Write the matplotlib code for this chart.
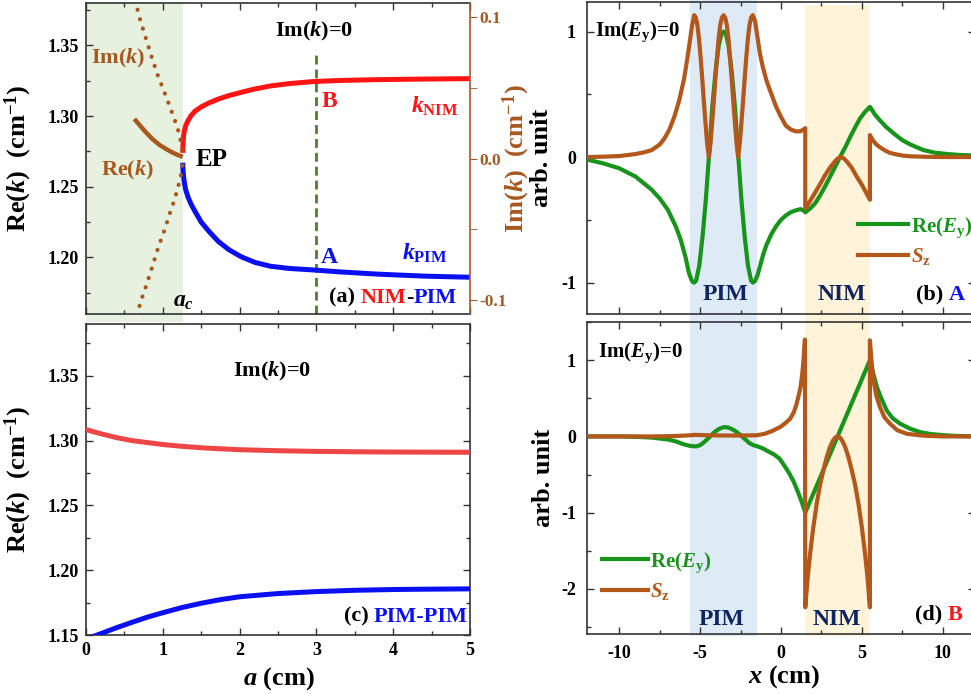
import matplotlib
matplotlib.use('Agg')
import matplotlib.pyplot as plt
from matplotlib.ticker import MultipleLocator, FixedLocator, FormatStrFormatter
from matplotlib.offsetbox import TextArea, HPacker, AnchoredOffsetbox
import matplotlib.transforms as mtrans

plt.rcParams.update({
    'font.family': ['Liberation Serif', 'DejaVu Serif'],
    'font.weight': 'bold',
    'axes.labelweight': 'bold',
    'mathtext.fontset': 'custom',
    'mathtext.rm': 'Liberation Serif:bold',
    'mathtext.it': 'Liberation Serif:italic:bold',
    'mathtext.bf': 'Liberation Serif:bold',
    'axes.unicode_minus': False,
    'axes.linewidth': 1.2,
})

# ---------------- data: panel (a) ----------------
a_c_value = 1.26          # exceptional point position
a_mark = 3.0              # dashed line position
a_nim = [1.26, 1.263, 1.27, 1.28, 1.30, 1.33, 1.37, 1.42, 1.50, 1.60, 1.72, 1.86, 2.02, 2.2, 2.4, 2.65, 2.95, 3.3, 3.8, 4.4, 5.0]
k_nim = [1.274, 1.280, 1.2855, 1.2895, 1.2935, 1.2970, 1.3005, 1.3035, 1.3065, 1.3093, 1.3120, 1.3145, 1.3168,
         1.3192, 1.3213, 1.3230, 1.3244, 1.3252, 1.3258, 1.3262, 1.3265]
a_pim = [1.26, 1.263, 1.27, 1.28, 1.30, 1.33, 1.37, 1.42, 1.50, 1.60, 1.72, 1.86, 2.02, 2.2, 2.4, 2.65, 2.95, 3.3, 3.8, 4.4, 5.0]
k_pim = [1.267, 1.262, 1.2575, 1.2530, 1.2475, 1.2425, 1.2375, 1.2325, 1.2250, 1.2185, 1.2115, 1.2055, 1.2005,
         1.1965, 1.1938, 1.1922, 1.1912, 1.1898, 1.1882, 1.1868, 1.1860]
a_re = [0.63, 0.70, 0.78, 0.87, 0.96, 1.05, 1.14, 1.21, 1.26]
k_re = [1.298, 1.2935, 1.2885, 1.2835, 1.2795, 1.2765, 1.2738, 1.2722, 1.2712]
a_im_up = [0.64, 0.70, 0.78, 0.86, 0.94, 1.02, 1.09, 1.15, 1.20, 1.235, 1.255, 1.26]
im_up = [0.112, 0.099, 0.085, 0.071, 0.058, 0.047, 0.037, 0.028, 0.020, 0.012, 0.005, 0.0]
a_im_lo = [0.66, 0.72, 0.78, 0.86, 0.94, 1.02, 1.09, 1.15, 1.20, 1.235, 1.255, 1.26]
im_lo = [-0.111, -0.100, -0.0906, -0.077, -0.063, -0.051, -0.039, -0.0296, -0.020, -0.012, -0.005, 0.0]

# ---------------- data: panel (c) ----------------
a_c_grid = [0, 0.2, 0.4, 0.6, 0.8, 1.0, 1.25, 1.5, 1.75, 2.0, 2.5, 3.0, 3.5, 4.0, 4.5, 5.0]
k_c_red = [1.3085, 1.3052, 1.3023, 1.3000, 1.2985, 1.2970, 1.2956, 1.2945, 1.2937, 1.2930, 1.2922, 1.2917,
           1.2914, 1.2912, 1.2911, 1.2910]
k_c_blue = [1.1468, 1.1512, 1.1557, 1.1598, 1.1638, 1.1672, 1.1712, 1.1745, 1.1773, 1.1795, 1.1820, 1.1835,
            1.1845, 1.1851, 1.1854, 1.1856]

# ---------------- data: panel (b) ----------------
pim_region = (-5.6, -1.5)
nim_region = (1.5, 5.5)
xb_E = [-12, -11, -10, -9, -8, -7.5, -7, -6.5, -6.2, -5.9, -5.7, -5.55, -5.45, -5.37,
        -5.25, -5.05, -4.85, -4.65, -4.45, -4.25, -4.05, -3.85, -3.7, -3.55,
        -3.4, -3.25, -3.05, -2.85, -2.65, -2.45, -2.25, -2.05, -1.85, -1.73,
        -1.6, -1.45, -1.3, -1.1, -0.9, -0.6, -0.3, 0.0, 0.3, 0.6, 0.9, 1.2, 1.4, 1.5,
        1.8, 2.1, 2.4, 2.7, 3.0, 3.3, 3.65, 4.0, 4.3, 4.6, 4.9, 5.2, 5.5,
        5.8, 6.1, 6.5, 7.0, 7.5, 8.0, 8.8, 9.5, 10.3, 11, 12]
E_b = [-0.02, -0.05, -0.09, -0.155, -0.26, -0.33, -0.42, -0.555, -0.66, -0.80, -0.92, -0.975, -0.995, -1.0,
       -0.985, -0.86, -0.63, -0.34, 0.02, 0.40, 0.68, 0.89, 0.975, 1.0,
       0.975, 0.89, 0.68, 0.40, 0.02, -0.34, -0.63, -0.86, -0.985, -1.0,
       -0.985, -0.94, -0.87, -0.775, -0.70, -0.615, -0.55, -0.50, -0.465, -0.44, -0.425, -0.415, -0.425, -0.44,
       -0.41, -0.37, -0.31, -0.24, -0.165, -0.09, 0.0, 0.085, 0.165, 0.24, 0.31, 0.36, 0.40,
       0.34, 0.295, 0.24, 0.185, 0.135, 0.10, 0.056, 0.035, 0.024, 0.017, 0.012]
xb_S = [-12, -11, -10, -9, -8.5, -8, -7.5, -7.2, -6.9, -6.6, -6.3, -6.0, -5.8, -5.63, -5.5, -5.37,
        -5.27, -5.17, -5.07, -4.97, -4.87, -4.77, -4.67, -4.57, -4.46,
        -4.36, -4.26, -4.16, -4.06, -3.96, -3.86, -3.76, -3.66, -3.55,
        -3.45, -3.35, -3.25, -3.15, -3.05, -2.95, -2.85, -2.75, -2.65,
        -2.55, -2.45, -2.35, -2.25, -2.15, -2.05, -1.95, -1.85, -1.74,
        -1.6, -1.45, -1.3, -1.13, -0.9, -0.62, -0.3, 0.0, 0.3, 0.6, 0.9, 1.2, 1.4, 1.5,
        1.5, 1.8, 2.1, 2.4, 2.7, 3.0, 3.3, 3.5, 3.7, 3.9, 4.1, 4.4, 4.7, 5.0, 5.25, 5.5,
        5.5, 5.7, 5.9, 6.1, 6.4, 6.7, 7.0, 7.5, 8.0, 9.0, 10, 12]
S_b = [0.0, 0.003, 0.008, 0.024, 0.037, 0.055, 0.10, 0.15, 0.22, 0.32, 0.45, 0.62, 0.78, 0.93, 1.05, 1.13,
       1.11, 1.05, 0.94, 0.79, 0.62, 0.44, 0.27, 0.11, 0.0,
       0.11, 0.27, 0.44, 0.62, 0.79, 0.94, 1.05, 1.11, 1.13,
       1.11, 1.05, 0.94, 0.79, 0.62, 0.44, 0.27, 0.11, 0.0,
       0.11, 0.27, 0.44, 0.62, 0.79, 0.94, 1.05, 1.11, 1.13,
       1.08, 0.95, 0.82, 0.72, 0.61, 0.51, 0.40, 0.32, 0.25, 0.22, 0.205, 0.205, 0.22, 0.23,
       -0.41, -0.35, -0.285, -0.22, -0.15, -0.09, -0.04, -0.012, 0.0, -0.012, -0.04, -0.09, -0.16, -0.22, -0.28, -0.34,
       0.175, 0.13, 0.10, 0.08, 0.055, 0.035, 0.025, 0.012, 0.006, 0.002, 0.0, 0.0]

# ---------------- data: panel (d) ----------------
xd_E = [-12, -10, -9, -8, -7, -6.5, -6, -5.6, -5.26, -5.0, -4.75, -4.5, -4.33, -4.1, -3.82, -3.6, -3.4,
        -3.15, -2.89, -2.6, -2.37, -2.15, -1.96, -1.7, -1.44, -1.1, -0.72, -0.4, -0.1, 0.2, 0.5, 0.8,
        1.07, 1.3, 1.5, 2.0, 2.5, 3.0, 3.5, 4.0, 4.5, 5.0, 5.5,
        5.7, 5.93, 6.2, 6.54, 6.9, 7.37, 8.0, 8.6, 9.3, 10.26, 11, 12]
E_d = [0.0, 0.0, -0.005, -0.015, -0.04, -0.065, -0.105, -0.125, -0.131, -0.115, -0.074, -0.025, 0.013, 0.06,
       0.10, 0.118, 0.122, 0.108, 0.079, 0.035, -0.009, -0.05, -0.087, -0.115, -0.131, -0.16, -0.205, -0.24,
       -0.29, -0.38, -0.48, -0.60, -0.74, -0.87, -1.0, -0.75, -0.5, -0.25, 0.0, 0.25, 0.5, 0.75, 1.0,
       0.83, 0.646, 0.50, 0.34, 0.24, 0.166, 0.10, 0.056, 0.03, 0.013, 0.005, 0.0]
xd_S = [-12, -8, -7, -6, -5.3, -4.5, -3.5, -2.5, -1.5, -1.0, -0.5, 0.0, 0.3, 0.56, 0.8, 0.97, 1.12, 1.22,
        1.32, 1.38, 1.44, 1.48,
        1.5, 1.65, 1.8, 2.0, 2.21, 2.42, 2.62, 2.83, 3.03, 3.2, 3.35, 3.5, 3.65, 3.8, 3.97, 4.17, 4.38,
        4.58, 4.79, 5.0, 5.2, 5.35, 5.5,
        5.5, 5.6, 5.72, 5.9, 6.13, 6.4, 6.75, 7.2, 7.78, 8.8, 10, 12]
S_d = [0.0, 0.0, 0.003, 0.01, 0.02, 0.015, 0.012, 0.012, 0.015, 0.035, 0.075, 0.13, 0.18, 0.23, 0.32,
       0.43, 0.56, 0.66, 0.83, 0.97, 1.14, 1.27,
       -2.24, -1.85, -1.54, -1.19, -0.88, -0.63, -0.446, -0.27, -0.14, -0.06, -0.015, 0.0, -0.015, -0.06,
       -0.14, -0.27, -0.446, -0.63, -0.88, -1.19, -1.54, -1.85, -2.24,
       1.26, 0.98, 0.73, 0.53, 0.38, 0.25, 0.166, 0.08, 0.035, 0.01, 0.0, 0.0]

# ---------------- styles ----------------
RED = '#FF1414'
RED_C = '#EE4646'
BLUE = '#0A10F2'
BROWN = '#A8581E'
ORANGE = '#B3581A'
GREEN = '#17941A'
NAVY = '#0E2563'
DASH_GREEN = '#4F7F2E'
SH_GREEN = '#E7F1DF'
SH_BLUE = '#DEEAF6'
SH_ORANGE = '#FFF3D9'
SPINE = '#333333'

W, H = 971, 694
fig = plt.figure(figsize=(W / 100, H / 100), dpi=100)


def rect(l, t, r, b):
    return [l / W, (H - b) / H, (r - l) / W, (b - t) / H]


ax_a = fig.add_axes(rect(86, 3, 470, 314))
ax_c = fig.add_axes(rect(86, 324, 470, 635))
ax_b = fig.add_axes(rect(587, 2, 975, 314))
ax_d = fig.add_axes(rect(587, 322, 975, 634))

for ax in (ax_a, ax_b, ax_c, ax_d):
    for s in ax.spines.values():
        s.set_color(SPINE)
    ax.tick_params(which='both', direction='in', top=True, right=True, color=SPINE,
                   labelsize=13, pad=5)
    ax.tick_params(which='major', length=5, width=1.0)
    ax.tick_params(which='minor', length=3, width=1.0)


def multi_text(ax, parts, xy, fontsize):
    boxes = [TextArea(s, textprops=dict(color=c, fontsize=fontsize, fontweight='bold')) for s, c in parts]
    pack = HPacker(children=boxes, align='baseline', pad=0, sep=0)
    ab = AnchoredOffsetbox(loc='lower right', child=pack, pad=0, borderpad=0, frameon=False,
                           bbox_to_anchor=xy, bbox_transform=ax.transAxes)
    ax.add_artist(ab)


# ================= panel (a) =================
ax_a.set_xlim(0, 5)
ax_a.set_ylim(1.16, 1.38)
sp = ax_a.axvspan(0, a_c_value, ymin=-0.026, ymax=1.0, color=SH_GREEN, lw=0, zorder=0)
sp.set_clip_on(False)
ax_a.axvline(a_mark, ymin=0, ymax=0.849, color=DASH_GREEN, lw=2, ls=(0, (3.2, 1.8)), zorder=2)
ax_a.plot(a_nim, k_nim, color=RED, lw=3.6, solid_capstyle='butt', zorder=3)
ax_a.plot(a_pim, k_pim, color=BLUE, lw=3.6, solid_capstyle='butt', zorder=3)
ax_a.plot(a_re, k_re, color=BROWN, lw=3.2, solid_capstyle='butt', zorder=3)
ax_a.xaxis.set_major_locator(MultipleLocator(1))
ax_a.xaxis.set_minor_locator(MultipleLocator(0.5))
ax_a.yaxis.set_major_locator(FixedLocator([1.20, 1.25, 1.30, 1.35]))
ax_a.yaxis.set_minor_locator(MultipleLocator(0.025))
ax_a.yaxis.set_major_formatter(FormatStrFormatter('%.2f'))
ax_a.tick_params(labelbottom=False, right=False)
ax_a.spines['right'].set_visible(False)
ax_a.set_ylabel('Re($k$)  (cm$^{-1}$)', fontsize=19)
ax_a.yaxis.set_label_coords(-0.135, 0.5)

axr = ax_a.twinx()
axr.set_ylim(-0.11, 0.11)
axr.plot(a_im_up, im_up, color=BROWN, lw=3.0, ls=(0, (0.05, 2.3)), dash_capstyle='round', zorder=3)
axr.plot(a_im_lo, im_lo, color=BROWN, lw=3.0, ls=(0, (0.05, 2.3)), dash_capstyle='round', zorder=3)
axr.yaxis.set_major_locator(FixedLocator([-0.1, 0.0, 0.1]))
axr.yaxis.set_minor_locator(MultipleLocator(0.05))
axr.set_yticklabels(['-0.1', '0.0', '0.1'])
axr.tick_params(axis='y', which='both', direction='out', color=BROWN, labelcolor=BROWN, labelsize=12.5, pad=2)
axr.tick_params(axis='y', which='major', length=5)
axr.tick_params(axis='y', which='minor', length=5)
axr.tick_params(axis='x', which='both', top=False, bottom=False)
for k_, s in axr.spines.items():
    s.set_visible(k_ == 'right')
axr.spines['right'].set_color(BROWN)
axr.set_ylabel('Im($k$)  (cm$^{-1}$)', fontsize=19, color=BROWN)
axr.yaxis.set_label_coords(1.08, 0.5)

ta = ax_a.transAxes
ax_a.text(0.594, 0.907, 'Im($k$)=0', transform=ta, ha='center', va='center', fontsize=16, color='black')
ax_a.text(0.635, 0.682, 'B', transform=ta, ha='center', va='center', fontsize=17, color=RED)
ax_a.text(0.633, 0.183, 'A', transform=ta, ha='center', va='center', fontsize=17, color=BLUE)
ax_a.text(0.909, 0.669, '$k_{\\rm NIM}$', transform=ta, ha='center', va='center', fontsize=17, color=RED)
ax_a.text(0.883, 0.196, '$k_{\\rm PIM}$', transform=ta, ha='center', va='center', fontsize=17, color=BLUE)
ax_a.text(0.328, 0.498, 'EP', transform=ta, ha='center', va='center', fontsize=18, color='black')
ax_a.text(0.083, 0.823, 'Im($k$)', transform=ta, ha='center', va='center', fontsize=16, color=BROWN)
ax_a.text(0.107, 0.463, 'Re($k$)', transform=ta, ha='center', va='center', fontsize=16, color=BROWN)
ax_a.text(0.255, 0.04, '$a_c$', transform=ta, ha='center', va='center', fontsize=17, color='black')
multi_text(ax_a, [('(a) ', 'black'), ('NIM', RED), ('-', 'black'), ('PIM', BLUE)], (0.966, 0.02), 16)

# ================= panel (c) =================
ax_c.set_xlim(0, 5)
ax_c.set_ylim(1.15, 1.39)
ax_c.plot(a_c_grid, k_c_red, color=RED_C, lw=3.6, zorder=3)
ax_c.plot(a_c_grid, k_c_blue, color=BLUE, lw=3.6, zorder=3)
ax_c.xaxis.set_major_locator(MultipleLocator(1))
ax_c.xaxis.set_minor_locator(MultipleLocator(0.5))
ax_c.yaxis.set_major_locator(FixedLocator([1.15, 1.20, 1.25, 1.30, 1.35]))
ax_c.yaxis.set_minor_locator(MultipleLocator(0.025))
ax_c.yaxis.set_major_formatter(FormatStrFormatter('%.2f'))
ax_c.set_ylabel('Re($k$)  (cm$^{-1}$)', fontsize=19)
ax_c.yaxis.set_label_coords(-0.135, 0.5)
ax_c.set_xlabel('$a$ (cm)', fontsize=19)
ax_c.xaxis.set_label_coords(0.503, -0.098)
ax_c.text(0.484, 0.846, 'Im($k$)=0', transform=ax_c.transAxes, ha='center', va='center', fontsize=16)
multi_text(ax_c, [('(c) ', 'black'), ('PIM-PIM', BLUE)], (0.995, 0.026), 16)

# ================= panel (b) =================
ax_b.set_xlim(-12, 12)
ax_b.set_ylim(-1.25, 1.235)
s1 = ax_b.axvspan(*pim_region, ymin=-0.05, ymax=1.006, color=SH_BLUE, lw=0, zorder=0)
s2 = ax_b.axvspan(*nim_region, ymin=-0.05, ymax=0.99, color=SH_ORANGE, lw=0, zorder=0)
s1.set_clip_on(False)
s2.set_clip_on(False)
ax_b.plot(xb_E, E_b, color=GREEN, lw=3.0, zorder=3, label='Re($E_{\\rm y}$)')
ax_b.plot(xb_S, S_b, color=ORANGE, lw=3.0, zorder=4, label='$S_{\\rm z}$')
ax_b.xaxis.set_major_locator(MultipleLocator(5))
ax_b.xaxis.set_minor_locator(MultipleLocator(2.5))
ax_b.yaxis.set_major_locator(MultipleLocator(1))
ax_b.yaxis.set_minor_locator(MultipleLocator(0.5))
ax_b.tick_params(labelbottom=False, pad=8)
ax_b.set_ylabel('arb. unit', fontsize=19)
ax_b.yaxis.set_label_coords(-0.088, 0.5)
tb = mtrans.blended_transform_factory(ax_b.transData, ax_b.transAxes)
ax_b.text(0.021, 0.904, 'Im($E_{\\rm y}$)=0', transform=ax_b.transAxes, ha='left', va='center', fontsize=15)
ax_b.text(-3.45, 0.061, 'PIM', transform=tb, ha='center', va='center', fontsize=17, color=NAVY)
ax_b.text(3.75, 0.061, 'NIM', transform=tb, ha='center', va='center', fontsize=17, color=NAVY)
multi_text(ax_b, [('(b) ', 'black'), ('A', BLUE)], (0.974, 0.03), 16)
ax_b.legend(loc='upper left', bbox_to_anchor=(0.699, 0.317), frameon=False, handlelength=2.4,
            handletextpad=0.12, labelspacing=0.3, borderpad=0, borderaxespad=0, fontsize=15,
            labelcolor='linecolor')

# ================= panel (d) =================
ax_d.set_xlim(-12, 12)
ax_d.set_ylim(-2.59, 1.5)
s3 = ax_d.axvspan(*pim_region, ymin=-0.008, ymax=1.0, color=SH_BLUE, lw=0, zorder=0)
s4 = ax_d.axvspan(*nim_region, ymin=-0.008, ymax=1.0, color=SH_ORANGE, lw=0, zorder=0)
s3.set_clip_on(False)
s4.set_clip_on(False)
ax_d.plot(xd_E, E_d, color=GREEN, lw=3.0, zorder=3, label='Re($E_{\\rm y}$)')
ax_d.plot(xd_S, S_d, color=ORANGE, lw=3.0, zorder=4, label='$S_{\\rm z}$')
ax_d.xaxis.set_major_locator(MultipleLocator(5))
ax_d.xaxis.set_minor_locator(MultipleLocator(2.5))
ax_d.yaxis.set_major_locator(MultipleLocator(1))
ax_d.yaxis.set_minor_locator(MultipleLocator(0.5))
ax_d.tick_params(pad=8)
ax_d.set_ylabel('arb. unit', fontsize=19)
ax_d.yaxis.set_label_coords(-0.082, 0.5)
ax_d.set_xlabel('$x$ (cm)', fontsize=19)
ax_d.xaxis.set_label_coords(0.508, -0.095)
td = mtrans.blended_transform_factory(ax_d.transData, ax_d.transAxes)
ax_d.text(0.028, 0.90, 'Im($E_{\\rm y}$)=0', transform=ax_d.transAxes, ha='left', va='center', fontsize=15)
ax_d.text(-3.7, 0.048, 'PIM', transform=td, ha='center', va='center', fontsize=17, color=NAVY)
ax_d.text(3.47, 0.048, 'NIM', transform=td, ha='center', va='center', fontsize=17, color=NAVY)
multi_text(ax_d, [('(d) ', 'black'), ('B', RED)], (0.969, 0.03), 16)
ax_d.legend(loc='upper left', bbox_to_anchor=(0.039, 0.269), frameon=False, handlelength=2.2,
            handletextpad=0.12, labelspacing=0.3, borderpad=0, borderaxespad=0, fontsize=15,
            labelcolor='linecolor')

fig.savefig('out.png', dpi=100)
